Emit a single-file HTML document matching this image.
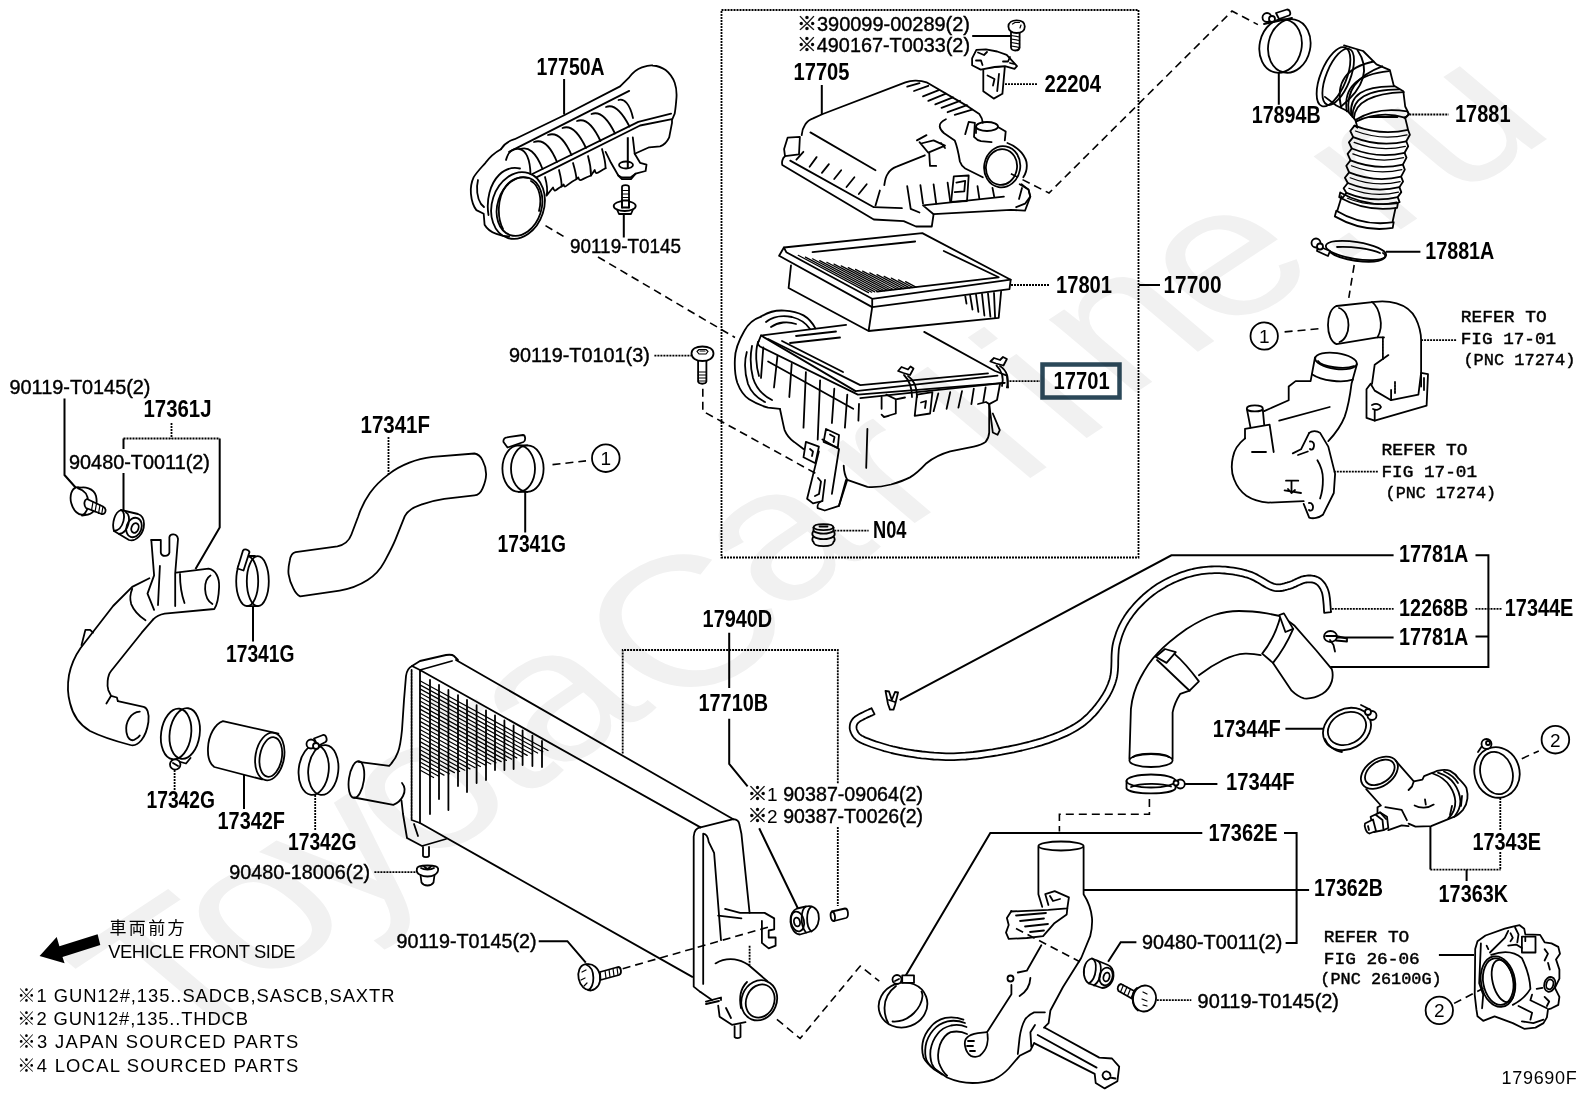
<!DOCTYPE html>
<html lang="en"><head><meta charset="utf-8"><title>Air cleaner parts diagram 179690F</title>
<style>
html,body{margin:0;padding:0;background:#fff;}
body{width:1592px;height:1099px;overflow:hidden;font-family:"Liberation Sans","Noto Sans CJK JP",sans-serif;}
svg{display:block}
.s{fill:none;stroke:#000;stroke-width:1.8;stroke-linecap:round;stroke-linejoin:round}
.f{fill:#fff;stroke:#000;stroke-width:1.8;stroke-linecap:round;stroke-linejoin:round}
.t{fill:none;stroke:#000;stroke-width:1.2;stroke-linecap:round;stroke-linejoin:round}
.d{fill:none;stroke:#000;stroke-width:1.6;stroke-dasharray:8 5}
.l{fill:none;stroke:#000;stroke-width:2}
.dl{fill:none;stroke:#000;stroke-width:1.8;stroke-dasharray:2 1}
text{font-family:"Liberation Sans","Noto Sans CJK JP",sans-serif;fill:#000}
.b{font-size:23.5px;font-weight:bold}
.m{font-size:20px;stroke:#000;stroke-width:.4}
.mono{font-family:"Liberation Mono",monospace;font-size:17px;stroke:#000;stroke-width:.45}
.n{font-size:17px;letter-spacing:1px}
.wm{font-size:170px;fill:#f3f3f3}
</style></head><body>
<svg width="1592" height="1099" viewBox="0 0 1592 1099">
<rect width="1592" height="1099" fill="#fff"/>
<!-- 10_left.svgfrag -->
<g id="left-pipe">
<!-- labels -->
<text class="m" x="9.5" y="393.5" textLength="141" lengthAdjust="spacingAndGlyphs">90119-T0145(2)</text>
<text class="b" x="143.5" y="416.5" textLength="68" lengthAdjust="spacingAndGlyphs">17361J</text>
<text class="m" x="69" y="468.5" textLength="141" lengthAdjust="spacingAndGlyphs">90480-T0011(2)</text>
<text class="b" x="226" y="661.5" textLength="68.5" lengthAdjust="spacingAndGlyphs">17341G</text>
<text class="b" x="146.5" y="808" textLength="68.5" lengthAdjust="spacingAndGlyphs">17342G</text>
<text class="b" x="217.5" y="829" textLength="67.5" lengthAdjust="spacingAndGlyphs">17342F</text>
<text class="b" x="288" y="849.5" textLength="68.5" lengthAdjust="spacingAndGlyphs">17342G</text>
<!-- leaders -->
<path class="l" d="M64.5 398.5V475L76.5 488.5"/>
<path class="dl" d="M171.5 423V438.5M123.5 438.5H219.7"/>
<path class="l" d="M123.5 438.5V449M123.5 473V510M219.7 438.5V527.5L195.5 569"/>
<path class="l" d="M253 607V641.5M244 775V809"/>
<path class="dl" d="M174.6 770V790M315.2 795V830"/>
<!-- bolt -->
<g class="s">
<ellipse class="f" cx="80" cy="501" rx="9" ry="14" transform="rotate(-15 80 501)"/>
<path class="f" d="M78 488.5C84 486 94 488 96 496C98 505 95 513 88 514.5L82 515.5C90 512 92 492 78 488.5Z"/>
<path class="f" d="M87 499L103 506.5C107 508.5 106 515 101.500 514L86 508C83.500 505 84 500 87 499Z"/>
<path class="t" d="M93 502L91.500 510.500M96.500 503.500L95 512M100 505L98.500 513.500M103 506.500L101.700 514"/>
</g>
<!-- bushing -->
<g class="s">
<path class="f" d="M121 510C115 512 111.500 523 114 531L129 540C136 542 144 534 144 524C144 518 141 515 138 514Z"/>
<path d="M121 510C127 512 124 530 114 531M126 512.500C132 515 129 533 119 534"/>
<ellipse cx="134" cy="527.500" rx="7.500" ry="10" transform="rotate(20 134 527.500)"/>
<ellipse cx="135" cy="528" rx="3.500" ry="5" transform="rotate(20 135 528)"/>
</g>
<!-- pipe 17361J -->
<g class="s">
<path d="M151.300 540H160.800V552.500C161.500 557 168.500 557 169.400 552.500V537.200C170 533.500 177 533 178 539L175.200 573.500V606"/>
<path d="M151.300 540L154.100 575.400L147.500 593.600L154.100 609.800M159.900 566L158 605"/>
<path d="M176.100 572.600L208.600 568.700C216 570 219.500 578 219.100 587C218.700 598 217 605 214.300 609L164.700 613.600C160 614.500 156 616.500 153.200 619.400"/>
<path d="M210.500 575.400C203 580 203 598 212.400 604.100M180 574C180 585 182 596 184.500 603"/>
<path d="M149.400 578.300L132.200 586.900L113.100 606L80.600 648C75 656 71 665 69 675C67.500 684 67.500 694 70 703C73 716 80 725 90 731C100 736 115 741 130.300 745C138 747 146 738 148.400 722C149.500 713 147 707.500 143.600 706.800L117.800 701.100"/>
<path d="M153.200 619.400L141.700 632.700L111.100 671C107 676 107 686 108.300 690.100L111.100 695.800L106.400 703.500M111.100 695.800L116.900 697.500L117.800 701.100"/>
<path d="M132.200 588.800C130 594 130 600 131.200 604.100C134 611 139 616 145.500 620.300"/>
<path d="M81.500 645.200L85.400 629.900H90.100L93 632.700"/>
<path d="M139.800 711.600C131 712 125 722 126.400 732C127.500 739 131 741 134 740C137 738.500 139 737 139.800 735.500"/>
</g>
<!-- clamp 17341G -->
<g class="s">
<ellipse cx="247.200" cy="581.200" rx="11" ry="25"/>
<ellipse cx="257.800" cy="581.200" rx="11" ry="25"/>
<path d="M247.200 606.200H257.800M247 556H255"/>
<path class="f" d="M243 550.500C244.500 548.500 249 549.500 249.500 552L243.500 570.500L237.500 568.500Z"/>
</g>
<!-- clamp 17342G a -->
<g class="s">
<ellipse cx="176.100" cy="734" rx="15" ry="25.500" transform="rotate(8 176 734)"/>
<ellipse cx="184.700" cy="733.500" rx="15" ry="25.500" transform="rotate(8 184.700 733.500)"/>
<path d="M172 759.500L186 763.500L190.500 758"/>
<circle class="f" cx="175.200" cy="764.500" r="5.200"/>
<path d="M173 763L178 766"/>
</g>
<!-- hose 17342F -->
<g class="s">
<path d="M278.400 733.600L222.900 721.100C215 724 208.500 735 208 748C207.500 758 210 764 214.300 767L262.100 779.400"/>
<ellipse cx="269.800" cy="756.500" rx="14.300" ry="24" transform="rotate(10 269.800 756.500)"/>
<ellipse cx="270.800" cy="757" rx="11" ry="20" transform="rotate(10 270.800 757)"/>
</g>
<!-- clamp 17342G b -->
<g class="s">
<ellipse cx="313.700" cy="770" rx="15" ry="25" transform="rotate(6 313.700 770)"/>
<ellipse cx="323.300" cy="770" rx="15" ry="25" transform="rotate(6 323.300 770)"/>
<path class="f" d="M314 738.500L323 735C326 734.500 328 740 325.500 742L318 746Z"/>
<circle class="f" cx="311" cy="744" r="4.500"/><circle class="f" cx="316" cy="746" r="3"/>
</g>
</g>
<!-- 11_hose17341.svgfrag -->
<g id="hose-17341F">
<text class="b" x="360.500" y="432.500" textLength="69.500" lengthAdjust="spacingAndGlyphs">17341F</text>
<text class="b" x="497.500" y="552.300" textLength="68.500" lengthAdjust="spacingAndGlyphs">17341G</text>
<path class="dl" d="M388.500 437V474.500"/>
<path class="l" d="M525.200 492V532.500"/>
<path class="d" d="M552.500 464.600L586 460.900"/>
<circle class="s" cx="605.800" cy="458.200" r="13.800"/>
<text x="605.800" y="465" font-size="19" text-anchor="middle">1</text>
<g class="s">
<path d="M474.500 453.500L432.700 456.900C424 458 416 460 409.400 462.700C401 466 394 470 388.500 474.400C381 480 375 486 369.900 493C365 500 361 508 358.300 516.200L351.300 534.800C349 541 344 545 337.400 546.400L295.600 552.200C292 553 290.500 556 289.800 560.400C288.500 566 288 570 288.600 574.300C289.500 580 291 584 293.200 588.200C295 592 297 595 300.200 596.400L339.700 590.600C350 589 360 585 367.600 580.100C374 576 380 570 383.900 562.700C388 555 392 548 395.500 539.400L404.800 516.200C408 510 414 507 421.100 504.600C428 502 436 500 444.300 498.800L474.500 495.300C478 495 481 492 482.600 488.300C484.500 484 486 479 486.100 474.400C486.200 469 484.500 464 482.600 460.400C481 457 478 454 474.500 453.500Z"/>
<ellipse cx="518.700" cy="468.600" rx="16.300" ry="23.200"/>
<ellipse cx="527.300" cy="468.600" rx="16.300" ry="23.200"/>
<path d="M518.700 491.800H527.300M518.700 445.400H527.300"/>
<path class="f" d="M503.500 442C503 439 505 437.500 507 437.300L523 435C525.500 435 526 441 523.500 442L507.500 447.500Z"/>
</g>
</g>
<!-- 12_duct17750.svgfrag -->
<g id="duct-17750A">
<text class="b" x="536.500" y="74.600" textLength="68" lengthAdjust="spacingAndGlyphs">17750A</text>
<text class="m" x="570" y="253" textLength="111" lengthAdjust="spacingAndGlyphs">90119-T0145</text>
<path class="l" d="M564.100 79V114.600M623.800 214V237.500M627.800 137.300V168"/>
<path class="d" d="M545.500 225.600L564.500 237M598 257L735 337.500"/>
<g class="s">
<path d="M500.900 149.200C504 144 508 141 514.600 139.200L563.700 115.500L620.100 86.400L629.200 77.300C633 72 637 69 641.900 67.300C646 66 650 65 652.900 65.500C658 66 662 67.500 665.600 70C670 73.500 673 78 674.700 82.800C676.500 88 676.800 92 676.500 97.300C676 104 675.500 109 674.700 113.700L672 120V122.800L669.200 137.300C667 142 664 145 660.100 146.400L649.200 147.300L634.700 153.700"/>
<path d="M509.100 151.900L629.200 90.900M532.800 173.700L638.300 121.900L671.100 113.700M536.400 177.400L640.100 125.500L672 119.100"/>
<path d="M506 160C508 152 513 148 520 149.200C526 151 530 160 530.500 174"/>
<path d="M520 149.200C528 146 536 152 542.500 169M534 142C542 139 550 145 557 162M548 135C556 132 564 138 571.500 155M562.500 128C570 125 578 131 586 148M577 121C584.500 118 592.500 124 600.500 141M591.500 114C599 111 607 117 615 133.500M606 107C613 104 621 110 629.500 126.500M618.500 100C624 98 630 104 633 118"/>
<path d="M545 177C547 184 548 190 546.500 195.600L551 190L553 187.500C555 194 555.500 189 561.500 186.500L563.700 184.500C565 190 566 184 576.400 179.200L578.300 177.400C580 183 581 179 591 175.500L594.700 170C596 176 598 172 605.600 168.200"/>
<path d="M559 170C561 178 562 183 561.500 186.500M573 163C575 170 576.500 175 576.400 179.200M588 156C590 163 591 170 591 175.500M602 149C604 156 605.500 162 605.600 168.200"/>
<path d="M500.900 149.200C494 153 489 158 485.500 162.800C480 169 476 173 473.600 177.400C471 183 470.500 189 470.900 193.700C471.500 200 473 206 476.400 210.100L483.700 213.800L484.600 224.700C487 229 491 232 496.400 233.800C501 235.500 505 236.500 509.100 236.500"/>
<path d="M478 180C476 188 477 198 481 204L484 207"/>
<ellipse cx="518" cy="205.500" rx="26" ry="34" transform="rotate(18 518 205.500)"/>
<ellipse cx="519.500" cy="206.500" rx="22" ry="30" transform="rotate(18 519.500 206.500)"/>
<path d="M503 229C497 218 497 198 506 186C511 179 520 176 528 178M531 181C540 186 542 200 539 211"/>
<path d="M488.500 215C486 200 490 184 499 175C505 169 513 167 520 168.500"/>
<path d="M605.600 151.900L611 162.800L618.300 175.500L621.900 179.200H631L635.600 173.700L645.600 171L646.500 164.600L640.100 162.800L634.700 153.700L632.800 137.300"/>
<ellipse cx="626" cy="165" rx="7" ry="3.500"/>
<path d="M618.300 175.500L622 177.500H630.500L635.600 173.700"/>
</g>
<g class="s">
<path class="f" d="M622 187C622 184.500 629 184.500 629 187V206H622Z"/>
<path class="t" d="M622 190.500H629M622 194H629M622 197.500H629M622 201H629"/>
<ellipse class="f" cx="624.700" cy="206" rx="11" ry="5"/>
<path class="f" d="M622 200.500H629V207.500H622Z" stroke="none"/>
<path d="M622 200V207.500M629 200V207.500"/>
<path d="M617 209.500L619 214H631L633 209.500"/>
</g>
</g>
<!-- 20_box_top.svgfrag -->
<g id="box-17700">
<rect x="721.500" y="10" width="417" height="547.500" fill="none" stroke="#000" stroke-width="1.800" stroke-dasharray="2 1"/>
<text class="m" x="797" y="31" textLength="173" lengthAdjust="spacingAndGlyphs">※390099-00289(2)</text>
<text class="m" x="797" y="51.500" textLength="173" lengthAdjust="spacingAndGlyphs">※490167-T0033(2)</text>
<text class="b" x="793.500" y="79.800" textLength="56" lengthAdjust="spacingAndGlyphs">17705</text>
<text class="b" x="1044.600" y="92" textLength="56.500" lengthAdjust="spacingAndGlyphs">22204</text>
<text class="b" x="1056" y="292.800" textLength="56" lengthAdjust="spacingAndGlyphs">17801</text>
<text class="b" x="1163.500" y="292.800" textLength="58" lengthAdjust="spacingAndGlyphs">17700</text>
<rect x="1042.500" y="364.500" width="77" height="33" fill="#fff" stroke="#2b4859" stroke-width="4.500"/>
<text class="b" x="1053.600" y="388.500" textLength="56" lengthAdjust="spacingAndGlyphs">17701</text>
<text class="b" x="873" y="538" textLength="33.500" lengthAdjust="spacingAndGlyphs">N04</text>
<text class="m" x="509" y="361.500" textLength="140.800" lengthAdjust="spacingAndGlyphs">90119-T0101(3)</text>
<path class="l" d="M972.200 35.900H1011M821.800 85V114.800M1139 285H1160"/>
<path class="dl" d="M1005 84.100H1038M1011 285H1049M1009.500 381.100H1040M834.300 530.600H868.600M654.400 355.600H691"/>
<!-- bolt top -->
<g class="s">
<path class="f" d="M1011 32V47.500C1011.500 51.500 1019 51.500 1019.600 47.500V32Z"/>
<path class="t" d="M1011 35.500L1019.600 37M1011 39L1019.600 40.500M1011 42.500L1019.600 44M1011 46L1019.600 47.500"/>
<path class="f" d="M1008.400 26.500C1008.400 22.500 1012 20.400 1016.500 20.400C1021.500 20.400 1024.800 22.500 1024.800 26.500C1024.800 30.500 1021.500 33 1016.500 33C1012 33 1008.400 30.500 1008.400 26.500Z"/>
<path class="t" d="M1012.500 24L1015 22.500H1019.500M1021 25L1020 28"/>
</g>
<!-- sensor 22204 -->
<g class="s">
<path class="f" d="M983.300 68V91.200L993.700 98.600L1002.400 93.800L1004.900 66.200Z"/>
<path class="f" d="M972.100 58.400L976.400 49.800L985.900 49.300L997.200 51.500L1006.700 54.900L1017 66.200L1014.500 68.800L1004.900 66.200L994.600 67L980.700 69.600L972.100 65.300Z"/>
<path d="M978 52.500L984 55L987 52M976 60.500H981L982.500 65M1003 61.500H1008L1010 57M1010 63L1014 64"/>
<path d="M987.500 75.500L994.500 79L993 85.500M999 74L997.200 91.200"/>
</g>
<!-- cover 17705 -->
<g class="s">
<path d="M801.700 135.100C802 130 803.500 127 805.200 124.500C807 121.500 810 119.500 813.100 118.400L822.800 114L905.400 82.300C909 81 913 80.500 916 80.600C920 80.800 924 81.500 926.500 82.300L968.700 106.900L979.300 114C981.500 117 982.500 120 982.800 122.800"/>
<path d="M907.200 86.700L919.500 83.200M914 91L928.300 85.800M923 96.400L938.800 90.200M928.300 100.800L945.900 93.700M935.300 104.300L952.900 97.300M941.500 107.800L960 100.800M947.600 112.200L967 105.200M954.700 114.800L972.200 109.600"/>
<path d="M810.400 132.400L875.500 170.200"/>
<path d="M787.600 137.700L799.900 136.800L799 154.400L785 156.200L784.100 149.100Z"/>
<path d="M785 156.200C782.500 158 781.500 162 782.300 165L873.800 219.500L903.700 221.200L916 226.500H931.800L933.600 214.200L1010.900 209.800L1025 210.700L1030.300 196.600L1028.500 189.600L1021.500 184.300"/>
<path d="M790.200 160.600L873.800 207.200L901.900 208.100M933.600 214.200L923 205.400L1003.900 196.600"/>
<path d="M796.400 159.700L803.400 151.800M809.600 166.700L816.600 157.100M821.900 172.900L828.900 164.100M834.200 179L841.200 170.200M846.500 187L854.400 177.300M858.800 194L866.700 184.300"/>
<path d="M884.300 185.200C885 180 886 176 887.800 173.800C890 170 893 168 896.600 166.700L924.800 155.300M875.500 205.400L879.900 190.500"/>
<path d="M916.900 140.400L926.500 135.100M919.500 142.100L928.300 152.700L945 145.600L933.600 140.400L921 143.500M929.200 152.700L930 165.900H936.200M941 143L945 148"/>
<path d="M945.900 119.200C942 121 939.500 124 939.700 126.300C940 129 942 131.500 944.100 133.300L954.700 140.400C957 146 958.500 153 959.900 161.500C961 165 963 167 965.200 168.500L982.800 177.300"/>
<path d="M965.200 134.200L968.700 121.900L974.900 122.800L974 136.800C976 139 978 140.500 981 141.200L991.600 142.100"/>
<ellipse cx="987" cy="126.500" rx="11" ry="4.500"/>
<path d="M998 127L1005.700 131.600L1004.800 140.400M976 127V133"/>
<ellipse cx="1002.200" cy="166.700" rx="18" ry="20.700" transform="rotate(10 1002.200 166.700)"/>
<ellipse cx="1001.500" cy="167" rx="15.500" ry="18" transform="rotate(10 1001.500 167)"/>
<path d="M1007.400 143C1013 145 1018 148.500 1021.500 152.700C1025 157 1026.800 161 1026.800 165C1027 170 1025.500 174 1023.300 177.300"/>
<path d="M907.200 186.100L910.700 208.900L919.500 212.500M920.400 185.200L923 203.700M933.600 184.300L936.200 203.700M947.600 182.600L950.300 201.900"/>
<path d="M953.800 176.400L968.700 175.500L967 201L951.100 201.900ZM956.400 182.600L965.200 180.800L964.300 191.400L954.700 192.200"/>
<path d="M977.500 186.100L979.300 198.400M992.500 187.800L994.200 196.600"/>
<path d="M1019.700 184.300L1028.500 189.600L1030.300 196.600L1025 203.700L1016.200 207.200M1022 188L1019 199"/>
</g>
</g>
<!-- 21_filter_body.svgfrag -->
<g id="filter-17801" class="s">
<path d="M779.100 255.800L783.900 247.500L922.300 233.100L1010.700 279.700L1009.500 289.200L872.200 307.100L779.100 255.800Z"/>
<path d="M783.900 247.500L786.300 252.200L872.200 298.800L1010.700 279.700M872.200 298.800V307.100"/>
<path d="M812.500 252.200L915.200 241.500M943.800 251L998.700 277.300L877 291.600"/>
<path class="t" d="M798.2 255.3L868.5 292.6M805.4 257.1L871.7 292.2M812.5 258.8L874.8 291.9M819.7 260.6L878.0 291.5M826.8 262.3L881.2 291.1M834.0 264.1L884.3 290.8M841.2 265.9L887.5 290.4M848.3 267.6L890.6 290.0M855.5 269.4L893.8 289.7M862.6 271.1L897.0 289.3M869.8 272.9L900.1 289.0M877.0 274.6L903.3 288.6M884.1 276.4L906.5 288.2M891.3 278.1L909.6 287.9M898.5 279.9L912.8 287.5M905.6 281.6L916.0 287.1"/>
<path d="M791 265.400L788.600 288L868.600 331L872.200 307.100M868.600 331L998.700 317.900L1001.100 291.600"/>
<path d="M965.300 296.400L966.500 303.600M970.100 295.200L972.500 309.500M976 294.500L978.400 311.900M982 294L984.400 315.500M988 293.500L990.400 316.700M994 293L995.100 317.900"/>
</g>
<g id="body-17701" class="s">
<!-- inlet -->
<path d="M761 316.600C754 319 748 324 744.400 330.700C739 340 735 350 734.900 359.100C734.500 368 735 376 737.300 382.800C740 390 744 396 749.100 399.300C755 403 762 406 768.100 407.600L779.900 408.800"/>
<path d="M761 316.600C768 312 776 310 784.600 310.600C792 311 798 312.500 803.500 315.400C808 318 812 322 815.400 328.400"/>
<path d="M746.800 352C744 362 745 374 748 384C751 392 757 398 765 402M752 346C750 356 750.500 368 753 378C756 388 762 395 772 400M766 322C772 317 782 315 792 317C800 319 806 323 810 329M771 327C778 322 788 321 796 324"/>
<path d="M758 342C755 352 756 366 759 376"/>
<!-- rim -->
<path d="M758.600 341.400L761 335.500L846.100 324.800M924.200 331.900L995.100 371L1006.900 375.700L1008.100 387.500"/>
<path d="M758.600 341.400C757.500 343 758 345 760 346.500L857.900 394.600L1004.600 382.800M855.600 391.100L997.500 375.700M761 335.500L855.600 391.100"/>
<path d="M768.100 339L860.300 385.100L988 373.300M782 341L843 372M796 336L836 331.500M790 343L840 337.500"/>
<path d="M860.300 398.200L1004.600 382.800"/>
<!-- left face ribs -->
<path d="M763.300 347.300L761 378M777.500 355.600L774 387.500M791.700 363.900L789.300 397M805.900 372.100L803.500 427.700M820.100 380.400L817.700 439.500M834.300 388.700L831.900 423M847.300 394.600L844.900 427.700"/>
<path d="M768.100 361.500L853.200 408.800"/>
<path d="M779.900 408.800C782 418 783 424 784.600 430.100C787 436 790 439 794.100 441.900L803.500 449"/>
<path d="M805.900 441.900L818.900 446.600L815.400 463.200L803.500 457.300ZM810 449L813 451.500L812 456"/>
<path d="M826 429L839 435L837.800 447.800L823.600 441.900ZM830 434.500L834.500 437L833.500 442"/>
<path d="M822.400 439.500L839 449L831.900 493.900M818.900 451.400L807.100 498.700L813 503.400L822.400 501"/>
<path d="M817.700 508.100C817 505 819 502 822.400 501L825 480M817.700 508.100L824.800 510.500L839 505.800L846.100 479.800M818 478L821 481.500L819 494L815 496"/>
<path d="M843.700 465.600C844 472 845 476 847.300 479.800L867.400 486.900C875 487.500 883 486.500 891 484.500C898 482.500 905 480 910 477.400C916 474 922 468 926.500 463.200C933 458 941 454 950.200 451.400L973.800 446.600C979 445.500 983 444 985.600 441.900C988 439 989 436 989.200 432.500V404.100"/>
<path d="M847.300 479.800L839 505.800"/>
<path d="M989.200 404.100L992.800 432.500L997.500 434.800L999.800 430.100L992.800 413.500"/>
<path d="M867.400 428.900L866.200 467.900M859 404L858.400 420.600"/>
<!-- under front rim -->
<path d="M881.600 397V408.800M886.300 394.600L895.800 399.300V413.500L884 417L881.600 414.700M895.800 399.300L905 397.500M884 417L888.700 415.900"/>
<path d="M917 394.600L932.400 392.200L930.100 413.500L914.700 415.900ZM921 402.500L926 401L925 408"/>
<path d="M938.300 393.400L933.600 411.200M950.200 392.200L946.600 408.800M962 391.100L958.400 407.600M973.800 388.700L971.400 404.100M985.600 387.500L983.300 401.700"/>
<path d="M978 404L986 402L989.200 404.100M1000 384L997 400L989.200 404.100"/>
<!-- clips -->
<path class="f" d="M898.100 371L901.500 367L908 369.500L910.500 366.500L913.500 368.600L910 375L903.500 373Z"/>
<path d="M908 376C914 380 917 387 917 397M904 375C910 381 912 388 912 397"/>
<path class="f" d="M990.400 361.500L994 358L1000 360L1003 357L1006.900 359L1003.500 365.500L996 363.500Z"/>
<path d="M1000 366C1006 370 1009.500 377 1006.900 387.500M996.500 365.500C1002 371 1004 378 1002 386"/>
</g>
<!-- bolt 90119-T0101(3) -->
<g class="s">
<path class="f" d="M698.100 360V381.500C698.500 384.500 706 384.500 706.400 381.500V360Z"/>
<path class="t" d="M698.100 372H706.400M698.100 375H706.400M698.100 378H706.400M698.100 381H706.400"/>
<path class="f" d="M691.500 353.500C691.500 349 696 346.500 702.400 346.500C709 346.500 713.500 349 713.500 353.500C713.500 358 709 361 702.400 361C696 361 691.500 358 691.500 353.500Z"/>
<path class="t" d="M697 351.500L699 349.500H706L708 351.500L706 354H699ZM700 351H705"/>
</g>
<path class="d" d="M702.800 388.700V411.200L816.400 473.800"/>
<!-- N04 grommet -->
<g class="s">
<path class="f" d="M813.500 527.500C813.500 523 833.500 523 833.500 527.500V531C835 533 835 535 833.500 536.500C835 538.500 835 540.500 833.500 542C833 547.500 814 547.500 813.500 542C812 540.500 812 538.500 813.500 536.500C812 535 812 533 813.500 531Z"/>
<path d="M813.500 531C818 534.500 829 534.500 833.500 531M813.500 536.500C818 540 829 540 833.500 536.500M813.500 527.500C816 531 831 531 833.500 527.500M819.500 526.500H827.500"/>
</g>
<!-- 30_topright.svgfrag -->
<g id="top-right">
<text class="b" x="1251.700" y="123.100" textLength="69" lengthAdjust="spacingAndGlyphs">17894B</text>
<text class="b" x="1455" y="122" textLength="55.500" lengthAdjust="spacingAndGlyphs">17881</text>
<text class="b" x="1425.300" y="258.600" textLength="69" lengthAdjust="spacingAndGlyphs">17881A</text>
<text class="mono" font-size="18" x="1460.700" y="322.400" textLength="86" lengthAdjust="spacingAndGlyphs">REFER TO</text>
<text class="mono" font-size="18" x="1460.700" y="344.200" textLength="95.500" lengthAdjust="spacingAndGlyphs">FIG 17-01</text>
<text class="mono" font-size="16" x="1463.400" y="364.700" textLength="112" lengthAdjust="spacingAndGlyphs">(PNC 17274)</text>
<text class="mono" font-size="18" x="1381.500" y="454.800" textLength="86" lengthAdjust="spacingAndGlyphs">REFER TO</text>
<text class="mono" font-size="18" x="1381.500" y="476.600" textLength="95.500" lengthAdjust="spacingAndGlyphs">FIG 17-01</text>
<text class="mono" font-size="16" x="1385.600" y="497.900" textLength="110.500" lengthAdjust="spacingAndGlyphs">(PNC 17274)</text>
<path class="l" d="M1278.800 72.600V104.700M1386 251.700H1420.400"/>
<path class="dl" d="M1409.300 114.500H1448.700M1421.100 340.100H1456.600M1333.800 471.700H1378.800"/>
<path class="d" d="M1010.900 173.800L1049 193L1232 11.100L1257.900 24.600"/>
<path class="d" d="M1354.200 265L1348.800 297.800M1284.600 331.900L1318.800 328.700"/>
<circle class="s" cx="1264.200" cy="336" r="13.700"/>
<text x="1264.200" y="342.800" font-size="19" text-anchor="middle">1</text>
<!-- clamp 17894B -->
<g class="s">
<ellipse cx="1280.600" cy="46" rx="21" ry="27" transform="rotate(12 1280.600 46)"/>
<ellipse cx="1289.300" cy="46" rx="21" ry="27" transform="rotate(12 1289.300 46)"/>
<circle class="f" cx="1267" cy="17.500" r="4.500"/><circle class="f" cx="1272" cy="19" r="3"/>
<path class="f" d="M1276 13L1287 9.500C1290 9.500 1291.500 14 1289 15.500L1279 19Z"/>
<path d="M1264 24L1292 18"/>
</g>
<!-- hose 17881 -->
<g class="s" stroke-width="1.8">
<ellipse cx="1333.5" cy="76.8" rx="13" ry="31.5" transform="rotate(22 1333.5 76.8)"/>
<ellipse cx="1338.2" cy="76.8" rx="12" ry="30" transform="rotate(22 1338.2 76.8)"/>
<path d="M1357.4 50.1 Q1376.5 77.8 1341.1 106.5"/>
<path d="M1344.0 45.3 L1363.1 51.0 L1376.5 64.4 L1389.9 70.2 L1393.7 85.4 L1403.3 91.2 L1405.2 106.5 L1409.0 114.1 L1405.2 118.0"/>
<path d="M1324.9 96.9 L1336.3 105.5 L1347.8 111.3 L1355.4 119.9 L1357.4 127.5"/>
<path d="M1341.1 107.4 Q1332.5 70.2 1373.6 61.5"/>
<path d="M1346.8 111.3 Q1341.1 75.9 1388.9 71.1"/>
<path d="M1351.2 115.1 Q1347.8 85.4 1394.1 86.4"/>
<path d="M1353.9 118.3 Q1355.4 94.1 1403.8 92.1"/>
<path d="M1348.8 112.2 Q1344.0 80.7 1382.2 66.3"/>
<path d="M1352.6 117.0 Q1351.6 89.3 1399.4 89.3"/>
<path d="M1355.4 119.9 Q1376.5 106.5 1407.1 111.3 Q1410.9 115.1 1404.2 117.6"/>
<path d="M1356.4 121.4 Q1380.3 110.3 1404.8 117.6"/>
<path d="M1369.8 117.0 L1397.5 117.0"/>
<path d="M1354.5 125.6 Q1381.3 136.1 1408.0 129.8"/>
<path class="t" d="M1355.4 131.0 Q1381.3 140.9 1407.1 134.8"/>
<path d="M1353.2 137.1 Q1379.7 147.6 1406.3 141.3"/>
<path class="t" d="M1354.1 142.4 Q1379.7 152.4 1405.4 146.3"/>
<path d="M1351.8 148.5 Q1378.2 159.1 1404.6 152.8"/>
<path class="t" d="M1352.8 153.9 Q1378.2 163.8 1403.6 157.7"/>
<path d="M1350.5 160.4 Q1376.7 170.9 1402.9 164.6"/>
<path class="t" d="M1351.4 165.8 Q1376.7 175.7 1401.9 169.6"/>
<path d="M1349.1 172.4 Q1375.1 183.0 1401.1 176.7"/>
<path class="t" d="M1350.1 177.8 Q1375.1 187.7 1400.2 181.6"/>
<path d="M1347.8 183.0 Q1373.6 193.5 1399.4 187.2"/>
<path class="t" d="M1348.8 188.3 Q1373.6 198.3 1398.5 192.1"/>
<path d="M1346.5 192.9 Q1372.1 203.4 1397.7 197.1"/>
<path class="t" d="M1347.4 198.3 Q1372.1 208.2 1396.7 202.1"/>
<path d="M1357.4 127.5L1354.5 125.6L1350.3 131.0L1353.2 137.1L1348.9 142.4L1351.8 148.5L1347.6 153.9L1350.5 160.4L1346.3 165.8L1349.1 172.4L1344.9 177.8L1347.8 183.0L1343.6 188.3L1346.5 192.9L1342.3 198.3L1341.1 196.3"/>
<path d="M1405.2 118.0L1407.1 125.6L1408.0 129.8L1409.9 134.8L1406.3 141.3L1408.2 146.3L1404.6 152.8L1406.5 157.7L1402.9 164.6L1404.8 169.6L1401.1 176.7L1403.1 181.6L1399.4 187.2L1401.3 192.1L1397.7 197.1L1399.6 202.1L1396.6 203.0"/>
<path d="M1340.2 192.5 Q1366.9 207.8 1397.9 203.0 L1397.1 207.8 Q1366.9 212.6 1339.2 197.3Z"/>
<path d="M1341.1 198.3 L1337.3 210.7 M1395.6 207.8 L1392.7 221.2"/>
<path d="M1336.3 210.7 Q1363.1 226.9 1393.7 222.2 L1392.7 227.9 Q1363.1 232.7 1334.8 216.4Z"/>
</g>
<!-- clamp 17881A -->
<g class="s">
<ellipse cx="1356" cy="250.500" rx="30.500" ry="8.500" transform="rotate(9 1356 250.500)"/>
<path d="M1328 250C1335 260 1375 266 1384.500 258C1386 256 1385 254 1383 253"/>
<path d="M1337 247C1350 246 1372 249 1380 253"/>
<circle class="f" cx="1316" cy="243" r="4.500"/>
<path class="f" d="M1318 246L1330 251L1328 256L1317 251Z"/>
<circle class="f" cx="1320" cy="246.500" r="3"/>
</g>
<!-- upper elbow -->
<g class="s">
<path d="M1336.500 306L1374.700 301.900C1382 301 1390 301.500 1396.600 303.300C1406 306 1412 311 1415.700 318.300C1419 325 1421 332 1421.100 340.100V386.500"/>
<path d="M1336.500 306C1331 308 1328 316 1328 325C1328 334 1331 342 1336.500 344.200L1377.500 337.400C1381 331 1381.500 324 1380.200 318.300C1379 311 1376 305 1372 301.900"/>
<path d="M1339 308C1345 310 1348.500 317 1348.500 325C1348.500 333 1345 340 1339.500 342"/>
<path class="dl" d="M1382.900 337.400V359.200"/>
<path d="M1377.500 337.400H1384M1388.400 355.100L1374.700 364.700L1372 383.800"/>
<path d="M1366.500 389.300L1370.600 383.800L1374.700 390.600L1391.100 400.200L1418.400 394.700L1421.100 372.900L1428 374.200L1426.600 405.600L1374.700 420.700L1366.500 417.900Z"/>
<path d="M1374.700 420.700V410M1391.100 400.200V390M1372 405C1376 403 1380 404 1381 407C1380 410 1376 410.500 1373 409M1424 378V390"/>
<path class="dl" d="M1395 382V394"/>
</g>
<!-- lower housing -->
<g class="s">
<ellipse cx="1336" cy="361" rx="21" ry="8" transform="rotate(8 1336 361)"/>
<path d="M1315 357.500L1310.600 381.100H1295.600L1288.700 386.500V400.200L1264.200 411.100"/>
<path d="M1357 364L1351.500 383.800C1350 396 1348 407 1344.700 416.600C1341 426 1335 434 1328.300 441.100"/>
<path d="M1311.900 374.200C1322 381 1342 383 1352.900 379.700M1318 361C1322 367 1345 370 1354 366"/>
<ellipse cx="1254.800" cy="408.400" rx="8" ry="3"/>
<path d="M1247 409.700L1250.500 427.500M1262.800 409.700L1264.200 424.700"/>
<path d="M1245 428.800L1269.600 424.700L1273.700 452M1245 428.800V438.400M1252 452H1266"/>
<path d="M1245 438.400C1238 444 1234 450 1232.800 457.500C1231 466 1231.500 473 1234.100 479.300C1237 487 1241 492 1246.400 495.700C1253 500 1260 502 1268.300 502.600L1303.700 501.200"/>
<path d="M1309.200 432.900C1312 430.500 1317 430.500 1320.100 432.900L1328.300 446.600L1335.100 473.900L1333.800 493L1322.900 514.800C1319 518 1313 519 1309.200 517.600L1303.700 503.900"/>
<path d="M1317.400 460.200C1321 466 1323 473 1322.900 479.300C1323 487 1322 493 1320.100 498.500"/>
<path d="M1309.200 432.900L1301 449.300L1292.800 453.400M1298 455L1307.800 451.500"/>
<path d="M1279.200 420.700L1329.700 407"/>
<path d="M1310 441.500C1313 441 1315 444 1313.500 448C1312.500 450 1311 450 1310 449M1309 503C1312 502.500 1314 506 1312.500 509.500C1311.500 511 1310 511 1309 510"/>
<path d="M1286 480.700H1298.300M1291.500 480.700V493M1284.600 490.300L1301 493M1288 489L1291.500 493L1295 490"/>
</g>
</g>
<!-- 40_rightmid.svgfrag -->
<g id="right-mid">
<text class="b" x="1399" y="562.400" textLength="69.300" lengthAdjust="spacingAndGlyphs">17781A</text>
<text class="b" x="1399" y="616" textLength="69.300" lengthAdjust="spacingAndGlyphs">12268B</text>
<text class="b" x="1399" y="645" textLength="69.300" lengthAdjust="spacingAndGlyphs">17781A</text>
<text class="b" x="1504.800" y="616" textLength="68.600" lengthAdjust="spacingAndGlyphs">17344E</text>
<text class="b" x="1212.800" y="737" textLength="68" lengthAdjust="spacingAndGlyphs">17344F</text>
<text class="b" x="1226" y="789.600" textLength="68.600" lengthAdjust="spacingAndGlyphs">17344F</text>
<text class="b" x="1472.400" y="849.600" textLength="68.600" lengthAdjust="spacingAndGlyphs">17343E</text>
<text class="b" x="1438.600" y="902" textLength="69.400" lengthAdjust="spacingAndGlyphs">17363K</text>
<path class="l" d="M1393.600 555.300H1171.400L899.700 700.200M1475.500 555.300H1488.400V666.900H1330.200M1475.500 636.600H1488.400M1336.400 637.500H1393.600M1285.400 728.700H1323M1185 784H1217.400M1430.400 826V869.600M1466.600 869.600V881"/>
<path class="dl" d="M1475.500 608.800H1501.700M1331.800 608.800H1393.600M1500.300 798V831M1500.300 852V869.600M1430.400 869.600H1500.600"/>
<path class="d" d="M1149.400 798.900V814.300H1059.400V831.400M1521.800 758.700L1538.800 750.900"/>
<circle class="s" cx="1555.400" cy="739.700" r="13.800"/>
<text x="1555.400" y="746.500" font-size="19" text-anchor="middle">2</text>
<!-- thin hose 17781A -->
<g class="s">
<path d="M871.5 708.2L870.6 708.6L869.5 709.1L868.1 709.8L866.5 710.5L864.8 711.3L863.0 712.2L861.1 713.1L859.3 714.0L857.6 715.0L856.0 716.0L854.5 717.1L853.3 718.2L852.3 719.4L851.5 720.6L850.8 721.9L850.3 723.1L850.0 724.4L849.8 725.7L849.7 727.0L849.7 728.3L849.9 729.5L850.2 730.7L850.5 731.9L851.0 733.0L851.4 733.9L851.9 734.8L852.4 735.8L853.1 736.8L853.9 737.8L854.8 738.7L855.8 739.7L857.0 740.6L858.4 741.5L860.0 742.4L861.8 743.2L863.8 744.1L866.0 745.0L868.6 746.0L871.3 747.0L874.3 748.0L877.4 749.0L880.7 750.0L884.1 751.1L887.7 752.0L891.3 753.0L894.9 753.8L898.6 754.6L902.2 755.3L905.8 756.0L909.6 756.6L913.4 757.2L917.4 757.8L921.4 758.3L925.4 758.7L929.5 759.1L933.6 759.5L937.7 759.7L941.8 759.9L945.9 760.1L949.9 760.1L953.9 760.1L957.9 759.9L961.9 759.7L965.9 759.5L969.8 759.1L973.8 758.7L977.8 758.3L981.7 757.8L985.7 757.2L989.7 756.6L993.6 756.0L997.6 755.4L1001.6 754.7L1005.6 753.9L1009.7 753.1L1013.9 752.3L1018.0 751.4L1022.1 750.5L1026.2 749.5L1030.2 748.5L1034.1 747.5L1037.9 746.4L1041.6 745.4L1045.2 744.2L1048.6 743.1L1051.9 741.9L1055.1 740.7L1058.3 739.5L1061.4 738.2L1064.4 736.9L1067.3 735.6L1070.1 734.2L1072.8 732.8L1075.5 731.3L1078.1 729.7L1080.6 728.1L1083.0 726.4L1085.3 724.7L1087.5 722.9L1089.6 721.1L1091.6 719.2L1093.5 717.2L1095.4 715.3L1097.1 713.3L1098.8 711.3L1100.4 709.3L1101.9 707.3L1103.4 705.3L1104.9 703.3L1106.3 701.3L1107.6 699.3L1108.9 697.3L1110.1 695.2L1111.2 693.1L1112.3 690.9L1113.3 688.7L1114.2 686.4L1115.1 684.1L1115.9 681.6L1116.6 679.0L1117.2 676.2L1117.6 673.3L1117.9 670.3L1118.1 667.3L1118.2 664.2L1118.2 661.2L1118.3 658.1L1118.4 655.2L1118.6 652.3L1118.8 649.5L1119.2 646.9L1119.7 644.4L1120.4 641.9L1121.1 639.5L1121.8 637.1L1122.6 634.8L1123.5 632.5L1124.4 630.3L1125.4 628.1L1126.5 625.9L1127.7 623.8L1129.0 621.6L1130.3 619.5L1131.8 617.4L1133.3 615.2L1135.0 613.1L1136.8 610.9L1138.7 608.7L1140.7 606.6L1142.8 604.5L1144.9 602.4L1147.1 600.4L1149.3 598.4L1151.6 596.5L1153.8 594.8L1156.1 593.1L1158.4 591.4L1160.8 589.9L1163.3 588.4L1165.8 586.9L1168.3 585.5L1170.9 584.2L1173.5 582.9L1176.2 581.7L1178.8 580.6L1181.4 579.6L1184.0 578.6L1186.6 577.7L1189.1 577.0L1191.6 576.3L1194.1 575.6L1196.6 575.1L1199.2 574.6L1201.7 574.2L1204.2 573.9L1206.7 573.6L1209.3 573.4L1211.8 573.3L1214.4 573.2L1216.9 573.2L1219.4 573.2L1222.0 573.3L1224.6 573.5L1227.2 573.8L1229.9 574.1L1232.5 574.4L1235.1 574.9L1237.6 575.3L1240.1 575.9L1242.6 576.4L1245.0 577.1L1247.3 577.7L1249.4 578.5L1251.5 579.4L1253.7 580.4L1255.8 581.6L1258.0 582.8L1260.1 584.1L1262.2 585.4L1264.3 586.6L1266.3 587.8L1268.4 588.8L1270.4 589.7L1272.5 590.4L1274.4 590.8L1276.2 591.1L1277.9 591.2L1279.5 591.2L1281.0 591.0L1282.5 590.8L1283.8 590.5L1285.1 590.2L1286.4 589.8L1287.6 589.5L1288.7 589.1L1290.0 588.8L1291.5 588.4L1293.0 587.8L1294.4 587.2L1295.9 586.6L1297.3 585.9L1298.6 585.3L1299.9 584.7L1301.2 584.1L1302.4 583.6L1303.5 583.2L1304.5 582.8L1305.4 582.6L1306.4 582.5L1307.4 582.4L1308.5 582.3L1309.4 582.3L1310.4 582.3L1311.3 582.4L1312.1 582.5L1312.9 582.6L1313.7 582.8L1314.4 583.1L1315.0 583.4L1315.6 583.7L1316.3 584.1L1316.9 584.6L1317.5 585.1L1318.1 585.7L1318.6 586.4L1319.2 587.1L1319.7 587.9L1320.2 588.7L1320.7 589.6L1321.1 590.6L1321.6 591.7L1322.0 592.8L1322.3 594.0L1322.6 595.5L1322.9 597.3L1323.1 599.1L1323.3 601.1L1323.5 603.1L1323.7 605.1L1323.8 607.0L1323.9 608.8L1324.0 610.4L1324.1 611.8L1324.2 612.8M874.5 714.2L873.6 714.7L872.4 715.3L870.9 715.9L869.4 716.7L867.7 717.4L865.9 718.3L864.2 719.1L862.6 720.0L861.1 720.8L859.8 721.6L858.8 722.4L858.1 723.0L857.7 723.5L857.3 724.1L857.0 724.7L856.8 725.3L856.6 725.9L856.5 726.5L856.5 727.1L856.5 727.7L856.6 728.3L856.7 728.9L856.9 729.6L857.2 730.2L857.6 731.0L857.9 731.6L858.2 732.3L858.6 732.8L859.0 733.3L859.5 733.9L860.1 734.4L860.9 735.0L861.9 735.7L863.2 736.3L864.6 737.1L866.4 737.9L868.5 738.7L870.9 739.6L873.6 740.6L876.4 741.6L879.5 742.5L882.7 743.5L886.0 744.5L889.4 745.5L892.9 746.4L896.4 747.2L899.9 748.0L903.4 748.7L907.0 749.3L910.6 749.9L914.4 750.5L918.3 751.0L922.2 751.5L926.1 751.9L930.1 752.3L934.1 752.7L938.1 752.9L942.1 753.1L946.0 753.3L949.9 753.3L953.8 753.3L957.6 753.1L961.5 752.9L965.3 752.7L969.2 752.3L973.1 752.0L977.0 751.5L980.9 751.0L984.7 750.5L988.6 749.9L992.5 749.3L996.4 748.6L1000.4 748.0L1004.4 747.2L1008.4 746.5L1012.5 745.6L1016.5 744.8L1020.6 743.9L1024.6 742.9L1028.5 742.0L1032.3 740.9L1036.0 739.9L1039.6 738.8L1043.0 737.8L1046.4 736.7L1049.6 735.5L1052.7 734.4L1055.8 733.2L1058.7 732.0L1061.6 730.7L1064.3 729.5L1067.0 728.1L1069.6 726.8L1072.1 725.4L1074.5 724.0L1076.8 722.5L1079.0 720.9L1081.1 719.4L1083.1 717.7L1085.0 716.0L1086.9 714.3L1088.6 712.5L1090.3 710.7L1092.0 708.9L1093.5 707.0L1095.1 705.1L1096.5 703.2L1098.0 701.3L1099.3 699.4L1100.6 697.5L1101.9 695.6L1103.0 693.8L1104.1 691.9L1105.2 690.0L1106.1 688.0L1107.0 686.0L1107.9 684.0L1108.6 681.9L1109.4 679.7L1110.0 677.4L1110.5 675.0L1110.9 672.5L1111.1 669.8L1111.3 667.0L1111.4 664.0L1111.5 661.0L1111.5 658.0L1111.6 654.9L1111.8 651.8L1112.1 648.7L1112.5 645.7L1113.1 642.8L1113.8 640.1L1114.6 637.5L1115.4 635.0L1116.2 632.4L1117.2 630.0L1118.2 627.5L1119.3 625.1L1120.5 622.8L1121.8 620.4L1123.2 618.1L1124.6 615.7L1126.2 613.4L1127.9 611.1L1129.7 608.8L1131.7 606.5L1133.7 604.2L1135.8 601.9L1138.0 599.7L1140.2 597.5L1142.5 595.3L1144.9 593.3L1147.3 591.3L1149.7 589.4L1152.1 587.5L1154.6 585.8L1157.1 584.1L1159.8 582.5L1162.4 581.0L1165.1 579.5L1167.9 578.1L1170.7 576.7L1173.4 575.5L1176.2 574.3L1179.0 573.2L1181.7 572.2L1184.4 571.3L1187.2 570.4L1189.9 569.7L1192.6 569.0L1195.3 568.4L1198.0 567.9L1200.7 567.5L1203.4 567.2L1206.1 566.9L1208.8 566.7L1211.5 566.5L1214.2 566.4L1216.9 566.4L1219.6 566.4L1222.4 566.6L1225.2 566.7L1228.0 567.0L1230.7 567.3L1233.5 567.7L1236.3 568.2L1239.0 568.7L1241.6 569.2L1244.3 569.9L1246.8 570.5L1249.3 571.3L1251.9 572.1L1254.4 573.2L1256.8 574.4L1259.1 575.7L1261.4 577.0L1263.6 578.3L1265.7 579.5L1267.7 580.7L1269.5 581.8L1271.3 582.7L1272.9 583.3L1274.3 583.8L1275.7 584.1L1276.9 584.3L1278.1 584.4L1279.2 584.4L1280.2 584.3L1281.2 584.1L1282.2 583.9L1283.3 583.6L1284.4 583.3L1285.6 582.9L1286.9 582.6L1288.2 582.2L1289.4 581.9L1290.5 581.5L1291.8 581.0L1293.0 580.4L1294.3 579.8L1295.7 579.1L1297.0 578.5L1298.4 577.9L1299.8 577.3L1301.3 576.7L1302.7 576.3L1304.2 576.0L1305.5 575.8L1306.8 575.6L1308.1 575.5L1309.4 575.5L1310.7 575.5L1311.9 575.6L1313.2 575.8L1314.4 576.0L1315.7 576.3L1316.9 576.8L1318.0 577.3L1319.2 577.9L1320.2 578.6L1321.2 579.3L1322.1 580.2L1323.0 581.1L1323.9 582.1L1324.7 583.1L1325.5 584.2L1326.1 585.4L1326.8 586.7L1327.4 588.0L1327.9 589.3L1328.4 590.8L1328.9 592.5L1329.3 594.3L1329.6 596.3L1329.9 598.4L1330.1 600.5L1330.3 602.6L1330.4 604.6L1330.6 606.5L1330.7 608.3L1330.8 609.9L1330.9 611.2L1331.0 612.2M871.5 708.2L874.5 714.2M1324.2 612.8L1331.0 612.2"/>
</g>
<!-- clip small -->
<g class="s"><ellipse cx="1330.500" cy="636.500" rx="6.500" ry="5.500"/><path d="M1326 636H1336L1347 638.500V641.500L1336 640.500M1330 640L1333.500 645L1335 651.500"/></g>
<!-- clip on left end of thin hose -->
<g class="s"><path class="f" d="M885.500 690.800L889 691.500L891.800 700L895 692L898.100 692.300L895 705L893.500 709.600H890L888 704Z"/><path d="M889 700L895 702"/></g>
<!-- hose 17344E -->
<g class="s">
<path d="M1129.400 758.700L1130.900 709.200C1132 698 1135 688 1140.200 678.300C1145 669 1150 661 1157.200 653.600C1165 645 1175 637 1186.500 628.900C1196 623 1205 618 1214.300 615C1222 612.500 1230 611 1239.100 611C1248 611 1258 612 1266.900 613.400L1282.300 616.500L1294.700 625.800L1316.300 650.500L1331.800 669.100C1333 673 1333 677 1331.800 681.400C1330 687 1327 691 1322.500 693.800C1317 697 1310 699 1304 698.400C1299 697 1295 694 1291.600 690.700L1273 662.900"/>
<path d="M1172.600 758.700V712.300C1174 705 1177 699 1180.300 693.800L1189.600 690.700M1198.900 675.200C1207 669 1215 664 1223.600 659.800C1231 656 1238 654 1245.200 653.600C1251 653.500 1256 654 1260.700 655.200"/>
<ellipse cx="1151" cy="760.500" rx="21.600" ry="6.500"/>
<path d="M1133 757C1138 752.500 1164 752.500 1169 757"/>
<path d="M1157 660C1166 668 1180 682 1189.600 690.700M1174.200 653.600C1184 662 1192 672 1198.900 681.400L1189.600 690.700"/>
<path class="f" d="M1155.700 656.700L1165 649L1175.800 652.100L1166.500 662.900Z"/>
<path d="M1280.800 615C1277 630 1270 644 1262.200 653.600L1273 662.900C1281 653 1288 641 1293.200 628.900"/>
<path class="f" d="M1279.300 615L1283.900 613.400L1293.200 628.900L1285.400 632Z"/>
</g>
<!-- clamp 17344F #1 -->
<g class="s">
<ellipse cx="1347" cy="729" rx="25" ry="20" transform="rotate(-28 1347 729)"/>
<ellipse cx="1347" cy="728.500" rx="20" ry="15.500" transform="rotate(-28 1347 728.500)"/>
<path d="M1325 739C1327 745 1334 751 1342 752M1361 705L1369 709"/>
<circle class="f" cx="1372" cy="715.500" r="4.500"/><circle class="f" cx="1368" cy="712" r="3"/>
</g>
<!-- clamp 17344F #2 -->
<g class="s">
<ellipse cx="1151" cy="781" rx="24.500" ry="6.500"/>
<path d="M1126.500 781V788.500C1130 795 1172 795 1175.500 788.500V786"/>
<path d="M1131 787C1140 783 1162 783 1171 786.500"/>
<circle class="f" cx="1180.300" cy="784" r="4.500"/><circle class="f" cx="1176" cy="783" r="2.500"/>
</g>
<!-- clamp 17343E -->
<g class="s">
<ellipse cx="1497" cy="772.400" rx="22.500" ry="25.500" transform="rotate(-15 1497 772.400)"/>
<ellipse cx="1496.500" cy="773" rx="16" ry="21.500" transform="rotate(-15 1496.500 773)"/>
<path d="M1478 752L1482 746"/>
<circle class="f" cx="1486.500" cy="744" r="5"/><circle class="f" cx="1488" cy="743" r="2"/>
</g>
<!-- connector 17363K -->
<g class="s">
<ellipse cx="1379.400" cy="772.700" rx="20.500" ry="13.500" transform="rotate(-35 1379.400 772.700)"/>
<ellipse cx="1379.800" cy="772.400" rx="16.500" ry="10.500" transform="rotate(-35 1379.800 772.400)"/>
<path d="M1395.600 760.600L1413.800 781.300L1412 786.500L1408.600 790"/>
<path d="M1413.800 781.300L1422.400 779.600L1424.100 776.100L1432.800 772.700C1436 771 1439 770.300 1441.400 770.100C1445 769.800 1448 770 1450.100 770.900C1454 773 1457 776 1458.700 778.700C1462 782 1465 785 1466.500 788.200C1467.500 792 1467.800 795 1467.400 798.600C1467 803 1465 807 1463 809.800C1460 813 1457 815.500 1454.400 816.700L1445.800 820.200L1431.100 826.200L1415.500 826.700L1408.600 823.700"/>
<path d="M1432.800 773.500C1440 776 1446 780 1450.100 786.500C1453 791 1455 796 1455.300 801.200C1455.500 808 1453 814 1448.300 818.500"/>
<path d="M1438 772.700C1445 775 1451 779 1454.400 784C1458 789 1460 795 1460.400 801.200C1460.500 807 1458 812 1454.400 816.700"/>
<path d="M1444 771.500C1450 774 1455 778 1458 783M1462 796L1461 806M1452 806L1450 815"/>
<path d="M1366.200 789.100L1380.900 805.500L1377.500 807.200V813.300M1385.300 807.200L1401.700 809.800L1406.900 820.200"/>
<path class="f" d="M1370.600 816.700L1380.100 812.400L1387 816.700L1388.300 828L1383.500 830.100L1374 832Z"/>
<path d="M1376 815L1382.500 820L1383.500 830.100M1380.100 812.400L1386 819"/>
<path class="f" d="M1365 823.500L1373 819.500L1376 831L1369.500 833.500C1366 833 1364 826 1365 823.500Z"/>
<path d="M1368 826L1369 830"/>
<path d="M1388.300 830.100L1401.700 825.400L1408.600 826.200"/>
<path d="M1414.600 805.500C1420 808.500 1428 808.500 1433.700 804.600M1425 799.500L1425.800 804.600"/>
</g>
</g>
<!-- 50_intercooler.svgfrag -->
<g id="intercooler">
<text class="b" x="702.600" y="626.600" textLength="69.600" lengthAdjust="spacingAndGlyphs">17940D</text>
<text class="b" x="698.500" y="710.600" textLength="69.600" lengthAdjust="spacingAndGlyphs">17710B</text>
<text class="m" y="801"><tspan x="747.500">※</tspan><tspan x="767" style="stroke-width:0;font-size:19px">1</tspan> <tspan x="783.200" textLength="139.800" lengthAdjust="spacingAndGlyphs">90387-09064(2)</tspan></text>
<text class="m" y="823.300"><tspan x="747.500">※</tspan><tspan x="767" style="stroke-width:0;font-size:19px">2</tspan> <tspan x="783.200" textLength="139.800" lengthAdjust="spacingAndGlyphs">90387-T0026(2)</tspan></text>
<text class="m" x="229.300" y="878.800" textLength="140.700" lengthAdjust="spacingAndGlyphs">90480-18006(2)</text>
<text class="m" x="396.500" y="948.200" textLength="140" lengthAdjust="spacingAndGlyphs">90119-T0145(2)</text>
<path class="l" d="M729.200 632.800V688M729.200 718.800V763.900L747.600 786.400M759.200 828.300L798.800 910.200M538.700 941.200H567.400L585.800 962.600"/>
<path class="dl" d="M622.700 753.600V650H837.800V783.200M837.800 826.900V906M374.400 872.200H416.200M749.600 945.700V964.800"/>
<path class="d" d="M622.700 968.700L770.100 926.600"/>
<path class="d" d="M776.900 1019.400L800.100 1038.500L860.200 966.100L879.300 981.200"/>
<g class="s">
<!-- left tank -->
<path d="M420 670L412 666C408 668 406.500 672 406 676L404 700L402 730C401 740 400 747 398 752C396 758 393 762 389.200 765.900L358.400 761.800"/>
<path d="M412 666L420 661L446 655C450 654.500 453 655 454 656L458 660"/>
<path d="M420 670L452 661M456 660L733.300 819.200"/>
<path class="dl" d="M411.600 670V820"/>
<path d="M420 670V823M420 670L700.500 827.400M420 823L692.300 976.900"/>
<ellipse cx="356.400" cy="779.500" rx="7.500" ry="18.500" transform="rotate(8 356.400 779.500)"/>
<path d="M354 797.500L393.300 804.800C398 803 401 800 403 796C405.500 791 404.500 786 402 783"/>
<path d="M401.500 800.700L403 814L407 838L422 846L446 839M411.600 820L420 823M414 824L418 836"/>
<path d="M423 847V856C424 857.500 428 857.500 429 856V847"/>
<!-- right tank -->
<path d="M700.500 827.400L733.300 819.200C737 819.500 739 821.500 739.400 824.500L741.400 833.700L749.600 912.900"/>
<path d="M700.500 827.400C696 828 694 831 693.700 836.500V986.600L700.500 992.100"/>
<path d="M703.200 833.700V983.900M703.200 833.700C706 834 708 837 708.700 841.900L714.100 852.800L721 940.200"/>
<path d="M725.100 908.800L740.100 912.900H764.600L774.200 918.400V929.300L768.700 930.500V937.500H775.600V945.700L768.700 948.400L761.900 942.900V921M718.200 915.600L741.400 918.400"/>
<path d="M715.500 963.400C721 960 728 958.500 734.600 959.300C740 960 744 962 748.300 964.800L767.400 981.200"/>
<ellipse cx="759.200" cy="1000.300" rx="17.500" ry="20.500" transform="rotate(22 759.200 1000.300)"/>
<ellipse cx="760.200" cy="1001" rx="14" ry="17" transform="rotate(22 760.200 1001)"/>
<path d="M741 1008C739 998 741 988 747 982"/>
<path d="M705.900 1001.600L721 997.500V1000M706 1004L719 1001M718.200 1005.700L719.600 1016.700L731.900 1024.800L745.500 1022.100M726 1008L731 1018"/>
<path d="M734.600 1026.200V1037.100C736 1038.500 739.500 1038.500 740.500 1037.100V1025"/>
<path d="M700.500 992.100L712 1000"/>
<path class="t" stroke-width="1.1" d="M420.4 681.0L548.0 750.5M420.4 685.1L542.8 751.8M420.4 689.1L537.6 753.0M420.4 693.2L532.4 754.2M420.4 697.2L527.2 755.4M420.4 701.3L522.0 756.7M420.4 705.4L516.8 757.9M420.4 709.4L511.6 759.1M420.4 713.5L506.4 760.4M420.4 717.5L501.2 761.6M420.4 721.6L496.0 762.8M420.4 725.7L490.8 764.0M420.4 729.7L485.6 765.3M420.4 733.8L480.4 766.5M420.4 737.8L475.2 767.7M420.4 741.9L470.0 768.9M420.4 746.0L464.8 770.2M420.4 750.0L459.6 771.4M420.4 754.1L454.4 772.6M420.4 758.1L449.2 773.8M420.4 762.2L444.0 775.1M420.4 766.3L438.8 776.3M420.4 770.3L433.6 777.5"/>
<path class="s" d="M430.0 679.9V814.0M439.0 684.8V799.0M448.4 689.9V810.0M458.0 695.1V786.0M467.0 700.0V792.0M476.6 705.2V783.0M486.0 710.4V780.0M495.0 715.3V770.0M504.4 720.4V770.0M513.6 725.4V769.0M522.6 730.3V765.0M532.4 735.7V766.0M542.0 740.9V767.0"/>
</g>
<!-- grommet 90480-18006 -->
<g class="s">
<path class="f" d="M417 868.500C417 864.500 438 864.500 438 868.500C439 872 436 874 434.500 875L433.500 882.500C431 886.500 424 886.500 421.500 882.500L420.500 875C418 874 416 872 417 868.500Z"/>
<path d="M420.500 875C424 877 431 877 434.500 875M421 868C424 870 431 870 434 868M424 866.500L427.500 869L431 866.500"/>
</g>
<!-- bolt 90119-T0145(2) -->
<g class="s">
<ellipse class="f" cx="587.500" cy="977" rx="9" ry="13" transform="rotate(-12 587.500 977)"/>
<path class="f" d="M586 964.500C593 963 599 968 600 976C601 984 597 989 591 990.500L588 990C595 988 596 968 586 964.500Z"/>
<path class="f" d="M600 972L618 967C621.500 967 622 974 619 975L600.500 980Z"/>
<path class="t" d="M605 970.500L606 978M609 969.500L610 977M613 968.500L614 976M617 967.500L618 975"/>
<path class="t" d="M582 972L586 970M581 980L585 978M584 986L587 983"/>
</g>
<!-- bushing 90387 -->
<g class="s">
<path class="f" d="M806 906.500C812 905 817 908 818.500 914C820 921 817.500 928 812 931L800 934.500C795 934 791 929 790.500 922C790 915 793 910 797 908.500Z"/>
<path d="M806 906.500C801 909 799.500 925 806 932.500M811 907C806.500 910 805 926 811.500 931.500"/>
<ellipse cx="797.500" cy="921.500" rx="6.500" ry="10" transform="rotate(-12 797.500 921.500)"/>
<ellipse cx="797" cy="922" rx="3" ry="4.500" transform="rotate(-12 797 922)"/>
</g>
<!-- pin -->
<g class="s">
<path class="f" d="M832 911.500L845 908.500C848.500 908.500 849 917 846 918L834 921C830.500 921 829.500 913 832 911.500Z"/>
<path d="M832 911.500C835 912 836 919 834 921"/>
</g>
</g>
<!-- 60_pipe17362.svgfrag -->
<g id="pipe-17362">
<text class="b" x="1208.600" y="840.800" textLength="69" lengthAdjust="spacingAndGlyphs">17362E</text>
<text class="b" x="1314" y="896.300" textLength="69" lengthAdjust="spacingAndGlyphs">17362B</text>
<text class="m" x="1142" y="949.200" textLength="140.400" lengthAdjust="spacingAndGlyphs">90480-T0011(2)</text>
<text class="m" x="1197.600" y="1008" textLength="141.400" lengthAdjust="spacingAndGlyphs">90119-T0145(2)</text>
<path class="l" d="M1202.300 833H990.300L905.500 975.900M1284 833H1296.600V942.900H1285.600M1083.600 890.100H1309.100M1136.400 942.300H1120.700L1108.100 961.700"/>
<path class="dl" d="M1156.800 1000.100H1191.300"/>
<path class="d" d="M1016 928.500L1079.800 961.700"/>
<!-- clamp -->
<g class="s">
<ellipse cx="903" cy="1005" rx="24.600" ry="22.300" transform="rotate(-20 903 1005)"/>
<path d="M896 986C888 992 884.500 1000 884.500 1008C884.500 1014 886 1019 888 1022.500M892.500 1021.500C900 1022 908 1019 914 1013C919 1008 922 1002 922.500 996C922.500 994 922 992.500 921.500 991.500"/>
<path class="f" d="M902.200 975.400H914V982.800H902.200Z"/>
<circle class="f" cx="897" cy="979.500" r="4.500"/>
<path d="M895 981L899 979"/>
</g>
<!-- pipe -->
<g class="s">
<ellipse cx="1061" cy="846" rx="22.600" ry="4.500"/>
<path d="M1038.400 847.100V894.200L1042.200 906.800M1083.600 847.100V894.200C1088 901 1091 907 1092 918.100C1092.500 925 1091.500 931 1090.200 936.200L1081.200 958L1063 987L1050.400 1010.500L1048.600 1023.200L1044 1027.700"/>
<path d="M1041.300 945.300L1026.800 970.700L1017.800 972.500M1011.400 985L1011.400 994.200L987 1032.200"/>
<path d="M1010.800 911.500L1048.400 909.900L1067.300 908.400L1068.900 897.400L1054.700 891.100L1045.300 894.200L1048.400 905M1050 896L1053 901L1060 899"/>
<path d="M1011.400 910.900L1006.900 918.100L1008.700 925L1006 932.600L1008.700 938.900L1026.800 938L1043.100 936.200L1054 923.600L1066.700 914.500L1067.300 908.400"/>
<path d="M1016 915.500L1046 913M1020 921L1044 918.500M1025 926.500L1048 924M1030 932L1044 930.500"/>
<circle cx="1010.500" cy="978.500" r="3"/>
<path d="M1030.400 977.900C1030 985 1026 992 1019.600 996"/>
<path d="M1044.900 1012.300H1034.100C1030 1014 1027 1016.500 1025 1019.600C1022 1025 1020.500 1031 1019.600 1037.700L1017.800 1054"/>
<path d="M1035 1025L1030.400 1032.200L1031.300 1046.700"/>
<path d="M934.400 1068.500L947.100 1077.500C955 1081 963 1083 972.500 1083C980 1083 988 1081.500 994.200 1079.300C1000 1076.500 1005 1072.500 1008.700 1068.500L1019.600 1055.800L1030.400 1050.400L1034.100 1043.100"/>
<path d="M987 1032.200L977.900 1033.200C973 1034 969 1035.500 967 1037.700C964.500 1040 964.500 1043.500 965.200 1046.700C966 1051 968 1054 970.700 1055.800C973.500 1057 977 1057 979.700 1055.800C983 1053 986 1049 987 1044.900C988 1041 988 1037 987.500 1034"/>
<path d="M968 1041H974M967 1046H973M970 1051H975"/>
<path d="M963.400 1019.600C958 1017.500 951 1016.800 945.300 1017.800C939 1019.500 934 1022.500 930.800 1026.800C926 1032 923.500 1037.500 922.600 1043.100C921.800 1048.500 922.200 1053.500 923.600 1057.600C926 1062.500 930 1066 934.400 1068.500"/>
<path d="M965 1023C960 1021 953 1020.300 947.500 1021.300C941 1023 936.500 1026 933.300 1030C929 1035 926.500 1040.500 925.600 1046C924.800 1051.500 925.200 1056.500 926.600 1060.500C929 1065.500 933 1069 937.500 1071.500"/>
<path d="M966.500 1027C962 1025 956 1024.500 951 1025.500C945 1027 940.500 1030 937.500 1034C933.500 1039 931.500 1044.500 930.500 1050C930 1055 930.500 1060 932 1064C934 1068.500 937.500 1072 942 1074.500"/>
<path d="M967 1034C962 1031.500 956 1031 950.700 1032.200C946 1034 942.500 1038.500 939.900 1044.900C938 1051 937.500 1057.500 939 1063C941 1068.500 943.500 1072.500 947.100 1075.700"/>
<path d="M1044.900 1027.700L1099.300 1057.600L1112 1058.500L1119.200 1066.700L1117.400 1081.200L1104.700 1088.400L1095.700 1083L1094.700 1073.900L1034.100 1043.100"/>
<path d="M1037.700 1035L1096.600 1067.600"/>
<path d="M1115.500 1078.500L1110 1077.500C1108.500 1080 1104.500 1080 1103 1077C1101.500 1074 1104 1071 1107 1071.500C1109 1072 1110.500 1073.500 1110.500 1075.500"/>
</g>
<!-- bushing -->
<g class="s">
<path class="f" d="M1092 958.500C1086 960 1083 967 1084 975C1085 980 1087 982.500 1089 983.500L1102 988C1108 988 1113 983 1113.500 976C1114 970 1111 966 1108 965Z"/>
<path d="M1092 958.500C1098 961 1097 978 1089 983.500M1097 960.500C1103 963 1102 980 1094 985.500"/>
<ellipse cx="1106" cy="976.500" rx="6.500" ry="9" transform="rotate(15 1106 976.500)"/>
<ellipse cx="1106.500" cy="977" rx="3" ry="4.500" transform="rotate(15 1106.500 977)"/>
</g>
<!-- bolt -->
<g class="s">
<path class="f" d="M1121 984L1137 992.500L1133.500 999.500L1118.500 991C1116.500 988 1118.500 984.500 1121 984Z"/>
<path class="t" d="M1123.500 985L1120.500 992M1127 987L1124 994M1130.500 989L1127.500 996M1134 991L1131 998"/>
<ellipse class="f" cx="1144.500" cy="998.500" rx="11.500" ry="13" transform="rotate(10 1144.500 998.500)"/>
<path d="M1137 988C1131 992 1131 1006 1138 1010.500"/>
<path class="t" d="M1143 992L1147 994M1142 999L1147 1001M1143 1005L1147 1006"/>
</g>
</g>
<g id="throttle">
<text class="mono" font-size="18" x="1323.800" y="942.100" textLength="85.500" lengthAdjust="spacingAndGlyphs">REFER TO</text>
<text class="mono" font-size="18" x="1323.800" y="964.100" textLength="96" lengthAdjust="spacingAndGlyphs">FIG 26-06</text>
<text class="mono" font-size="16" x="1320.300" y="983.800" textLength="121.400" lengthAdjust="spacingAndGlyphs">(PNC 26100G)</text>
<path class="l" d="M1438.900 955H1474"/>
<path class="d" d="M1454.100 1003.400L1483.500 988.200"/>
<circle class="s" cx="1439.300" cy="1010.400" r="13.700"/>
<text x="1439.300" y="1017.200" font-size="19" text-anchor="middle">2</text>
<g class="s">
<path d="M1477.5 941.2L1485.5 935.5L1504.8 928.7L1513.9 926.4L1519.6 925.2L1524.2 928.7L1525.3 934.3L1540.1 934.9L1544.6 942.3L1551.5 943.4L1558.3 946.9L1560.0 953.7L1556.0 959.4L1559.4 969.6L1559.4 978.7L1554.9 987.8L1559.4 996.9L1558.3 1004.9L1551.5 1008.3L1548.0 1009.4L1546.9 1017.4L1543.5 1023.1L1535.5 1027.6L1524.2 1028.8L1512.8 1023.1L1494.6 1016.3L1483.2 1020.8L1477.5 1016.3L1476.4 1009.4L1474.7 994.6L1475.2 949.1Z"/>
<path d="M1480.9 943.4L1479.2 983.3L1483.2 994.6L1482.1 1008.3"/>
<ellipse cx="1498.0" cy="981.6" rx="17" ry="25.5" transform="rotate(-10 1498.0 981.6)"/>
<ellipse cx="1498.2" cy="981.6" rx="15" ry="23.5" transform="rotate(-10 1498.2 981.6)"/>
<ellipse cx="1503.1" cy="981.0" rx="10.5" ry="21.5" transform="rotate(-14 1503.1 981.0)"/>
<path d="M1491.2 954.8Q1510.5 948.0 1521.9 958.2Q1529.8 974.2 1530.4 988.9Q1524.2 999.2 1512.8 1004.9"/>
<path d="M1490.0 952.5L1504.8 937.8L1508.2 930.9"/>
<path d="M1508.2 945.7L1516.2 944.6L1521.9 948.0"/>
<path d="M1521.9 936.6L1535.5 936.6L1535.5 952.5L1521.9 952.5Z"/>
<path d="M1525.3 936.6L1525.3 941.2"/>
<path d="M1515.1 927.5L1518.5 934.3L1517.3 942.3"/>
<path d="M1510.5 933.2L1512.8 937.8L1510.5 941.2"/>
<path d="M1544.6 949.1L1548.0 953.7L1544.6 960.5"/>
<path d="M1548.0 962.8L1549.8 969.6"/>
<ellipse cx="1549.8" cy="984.4" rx="5.5" ry="7.5" transform="rotate(15 1549.8 984.4)"/>
<ellipse cx="1549.8" cy="984.4" rx="3.5" ry="5" transform="rotate(15 1549.8 984.4)"/>
<path d="M1536.7 988.9L1542.4 987.8"/>
<path d="M1532.1 994.6L1530.4 1000.3L1546.9 1008.3"/>
<path d="M1544.6 996.9L1549.2 1001.5L1546.9 1006.0"/>
<path d="M1518.5 1006.0L1532.1 1012.8L1530.4 1019.7"/>
<path d="M1521.9 1021.4L1533.3 1023.1L1543.5 1019.7"/>
<path d="M1486.6 945.7L1488.3 949.1"/>
</g>
<text x="1501.500" y="1083.600" font-size="18" textLength="75.300" lengthAdjust="spacing">179690F</text>
</g>
<!-- 70_notes.svgfrag -->
<g id="notes">
<path d="M39.600 955.900L56.700 936.900L59.400 946.200L97.600 934.300L100.300 944.900L62.500 957L64.600 963.300Z" fill="#000"/>
<text x="109.500" y="934" font-size="17" textLength="75" lengthAdjust="spacing">車両前方</text>
<text x="108.200" y="957.500" font-size="18.400" textLength="187.300" lengthAdjust="spacing">VEHICLE FRONT SIDE</text>
<text x="17.200" y="1001.600" font-size="18.400" textLength="377.300" lengthAdjust="spacing">※1 GUN12#,135..SADCB,SASCB,SAXTR</text>
<text x="17.200" y="1024.800" font-size="18.400" textLength="230.800" lengthAdjust="spacing">※2 GUN12#,135..THDCB</text>
<text x="17.200" y="1047.800" font-size="18.400" textLength="281" lengthAdjust="spacing">※3 JAPAN SOURCED PARTS</text>
<text x="17.200" y="1071.500" font-size="18.400" textLength="281" lengthAdjust="spacing">※4 LOCAL SOURCED PARTS</text>
</g>
<!-- 99_watermark.svgfrag -->
<text id="wm" transform="scale(1.34 1)" font-size="185" x="128.2 191.8 257.6 315.6 383.7 413.3 502.0 580.6 673.0 759.5 801.6 838.1 912.7 994.1 1035.8 1086.6" y="1056.3 989.1 925.4 868.4 803.8 776.1 715.8 615.1 531.5 486.2 446.2 401.1 336.1 270.2 237.7 199.1" rotate="-41.45" fill="#f1f1f1" style="fill:#f1f1f1;mix-blend-mode:multiply">ToyotaCarline.ru</text>
</svg>
</body></html>
